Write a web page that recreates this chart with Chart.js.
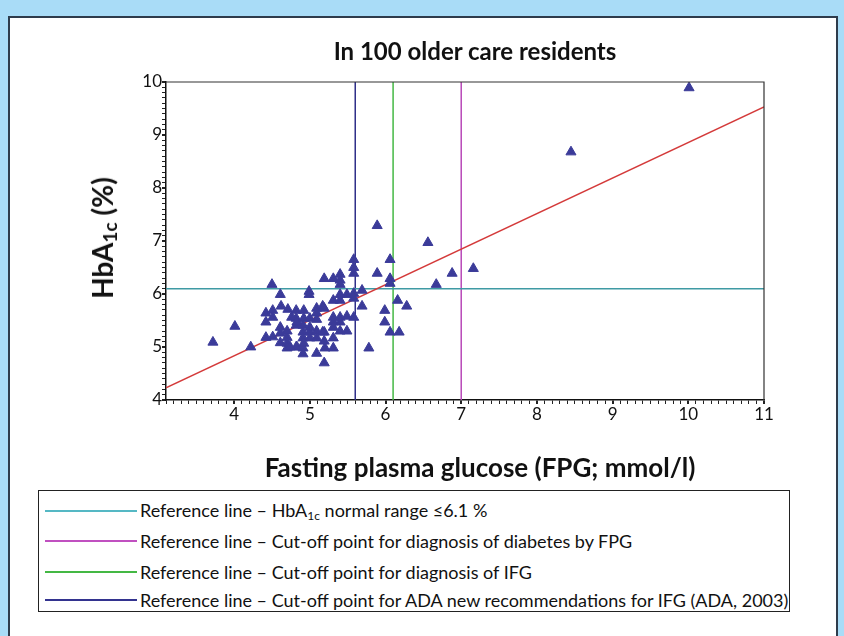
<!DOCTYPE html>
<html>
<head>
<meta charset="utf-8">
<script src="https://cdn.jsdelivr.net/npm/chart.js@4"></script>
<style>
  html, body { margin: 0; padding: 0; }
  body { width: 844px; height: 636px; background: #a9dcf7; position: relative; overflow: hidden; font-family: Lato, "DejaVu Sans", sans-serif; }
  #panel { position: absolute; left: 8px; top: 16px; width: 826px; height: 640px; background: #fff; border: 2px solid #2e3c4c; }
  #wrap { position: absolute; left: 0; top: 0; width: 844px; height: 485px; }
  .ttl { position: absolute; transform: translate(-50%, -50%); font-weight: bold; color: #111; white-space: nowrap; }
  #title { left: 475px; top: 50px; font-size: 24px; }
  #xtitle { left: 480px; top: 467px; font-size: 26px; }
  #ytitle { left: 103px; top: 238px; transform: translate(-50%, -50%) rotate(-90deg); font-size: 28px; }
  #ytitle sub { font-size: 19px; vertical-align: -4px; }
  #legend { position: absolute; left: 38px; top: 490px; width: 752px; height: 122px; border: 1.5px solid #222; box-sizing: border-box; }
  .item { position: absolute; left: 6px; height: 22px; display: flex; align-items: center; font-size: 18px; color: #111; white-space: nowrap; }
  .item .swatch { display: inline-block; width: 92px; height: 0; border-top: 2px solid; margin-right: 3px; }
  .item sub { font-size: 12px; vertical-align: -3px; }
</style>
</head>
<body>
<div id="panel"></div>
<div id="wrap"><canvas id="hbaChart" width="844" height="485"></canvas></div>
<div class="ttl" id="title">In 100 older care residents</div>
<div class="ttl" id="xtitle">Fasting plasma glucose (FPG; mmol/l)</div>
<div class="ttl" id="ytitle">HbA<sub>1c</sub> (%)</div>
<div id="legend">
  <div class="item" style="top:9px"><span class="swatch" style="border-color:#55b8c4"></span><span>Reference line – HbA<sub>1c</sub> normal range ≤6.1 %</span></div>
  <div class="item" style="top:39px"><span class="swatch" style="border-color:#c050c0"></span><span>Reference line – Cut-off point for diagnosis of diabetes by FPG</span></div>
  <div class="item" style="top:70px"><span class="swatch" style="border-color:#44b844"></span><span>Reference line – Cut-off point for diagnosis of IFG</span></div>
  <div class="item" style="top:98px"><span class="swatch" style="border-color:#33338f"></span><span>Reference line – Cut-off point for ADA new recommendations for IFG (ADA, 2003)</span></div>
</div>
<script>
// FPG (mmol/l) and HbA1c (%) per resident
const fpgValues = [
  10.01, 8.45, 5.89, 6.56, 7.16, 6.88, 6.67,
  5.58, 5.58, 5.58, 5.58, 5.58, 5.58,
  6.06, 6.06, 6.06, 6.06,
  5.89, 5.69, 6.16, 6.28, 5.99, 5.99, 6.18, 5.69, 5.78,
  3.72, 4.01, 4.22, 4.50, 4.61,
  4.42, 4.42, 4.51, 4.62, 4.71, 4.82, 4.92,
  4.61, 4.61, 4.42, 4.51, 4.70, 4.70, 4.70, 4.82, 4.91, 4.91,
  4.82, 4.82, 4.91, 4.91, 4.91, 5.00, 5.00,
  4.99, 4.99, 5.09, 5.19, 5.09, 5.09, 5.09, 5.19, 5.19, 5.19,
  5.31, 5.31, 5.31, 5.31, 5.40, 5.40, 5.31, 5.40, 5.49, 5.40, 5.49,
  5.19, 5.31, 5.40, 5.40, 5.40, 5.40,
  4.76, 4.83, 4.92, 5.00, 5.00, 5.17, 5.17, 4.83, 4.74, 5.20, 4.92, 5.09, 4.61,
  4.51, 5.49, 5.09, 4.70, 5.31
];
const hba1cValues = [
  9.89, 8.68, 7.29, 6.97, 6.48, 6.39, 6.18,
  6.65, 6.50, 6.39, 6.01, 5.92, 5.56,
  6.65, 6.29, 6.20, 5.28,
  6.39, 6.07, 5.88, 5.77, 5.69, 5.47, 5.28, 5.77, 4.98,
  5.09, 5.39, 5.00, 6.18, 5.99,
  5.64, 5.47, 5.69, 5.77, 5.71, 5.69, 5.69,
  5.37, 5.26, 5.18, 5.19, 5.18, 5.07, 4.98, 5.00, 4.98, 4.87,
  5.54, 5.41, 5.41, 5.28, 5.17, 5.28, 5.17,
  6.05, 5.99, 5.73, 5.73, 5.52, 5.30, 4.88, 4.70, 5.28, 5.11,
  4.98, 5.17, 5.56, 5.47, 5.56, 5.47, 5.88, 5.99, 5.99, 5.30, 5.30,
  6.29, 6.29, 6.37, 6.26, 6.18, 5.88,
  5.56, 5.47, 5.54, 5.54, 5.37, 5.77, 5.28, 5.00, 5.00, 4.98, 5.07, 5.17, 5.08,
  5.56, 5.58, 5.64, 5.30, 5.37
];

// reference lines
const hbaNormal = 6.1;        // HbA1c normal range
const fpgDiabetes = 7.0;      // diabetes by FPG
const fpgIFG = 6.1;           // IFG
const fpgADA = 5.6;           // ADA 2003 IFG
// regression line ends, read at the plot edges
const fitX = [3.1, 11];
const fitY = [4.23, 9.53];

const xMin = 3.1, xMax = 11, yMin = 4, yMax = 10;

const isMajor = v => Math.abs(v - Math.round(v)) < 1e-6;

const frame = {
  id: "frame",
  afterDatasetsDraw(chart) {
    const { ctx, chartArea: a } = chart;
    ctx.save();
    ctx.strokeStyle = "#333";
    ctx.lineWidth = 1.2;
    ctx.beginPath();
    ctx.moveTo(a.left, a.top);
    ctx.lineTo(a.right, a.top);
    ctx.lineTo(a.right, a.bottom);
    ctx.stroke();
    ctx.restore();
  }
};

const refLine = (label, pts, color, width) => ({
  type: "line", label, data: pts, borderColor: color, borderWidth: width,
  pointRadius: 0, fill: false, tension: 0
});

new Chart(document.getElementById("hbaChart").getContext("2d"), {
  type: "scatter",
  data: {
    datasets: [
      {
        label: "Residents",
        data: fpgValues.map((x, i) => ({ x, y: hba1cValues[i] })),
        pointStyle: "triangle",
        pointRadius: 5.8,
        backgroundColor: "#3b3b99",
        borderColor: "#3b3b99",
        borderWidth: 1
      },
      refLine("fit", [{ x: fitX[0], y: fitY[0] }, { x: fitX[1], y: fitY[1] }], "#d43a3a", 1.3),
      refLine("HbA1c 6.1", [{ x: xMin, y: hbaNormal }, { x: xMax, y: hbaNormal }], "#3f9aa4", 1.5),
      refLine("FPG 7.0", [{ x: fpgDiabetes, y: yMin }, { x: fpgDiabetes, y: yMax }], "#b848b8", 1.5),
      refLine("FPG 6.1", [{ x: fpgIFG, y: yMin }, { x: fpgIFG, y: yMax }], "#44b844", 1.5),
      refLine("FPG 5.6", [{ x: fpgADA, y: yMin }, { x: fpgADA, y: yMax }], "#2e2e88", 1.5)
    ]
  },
  options: {
    responsive: false,
    animation: false,
    layout: { padding: { left: 120, right: 80, top: 82, bottom: 0 } },
    plugins: {
      legend: { display: false },
      tooltip: { enabled: false }
    },
    scales: {
      x: {
        type: "linear", min: xMin, max: xMax,
        afterFit(scale) { scale.height = 85; },
        ticks: {
          stepSize: 0.1, autoSkip: false, maxRotation: 0, padding: 0,
          color: "#111", font: { family: "Lato", size: 17 },
          callback: v => isMajor(v) ? String(Math.round(v)) : ""
        },
        grid: {
          drawOnChartArea: false, drawTicks: true, tickLength: 4,
          color: "#222", lineWidth: c => isMajor(c.tick.value) ? 2 : 1
        },
        border: { display: true, color: "#111", width: 1.5 }
      },
      y: {
        type: "linear", min: yMin, max: yMax,
        afterFit(scale) { scale.width = 46; },
        ticks: {
          stepSize: 0.1, autoSkip: false, padding: 0,
          color: "#111", font: { family: "Lato", size: 17 },
          callback: v => isMajor(v) ? String(Math.round(v)) : ""
        },
        grid: {
          drawOnChartArea: false, drawTicks: true, tickLength: 4,
          color: "#222", lineWidth: c => isMajor(c.tick.value) ? 2 : 1
        },
        border: { display: true, color: "#111", width: 1.5 }
      }
    }
  },
  plugins: [frame]
});
</script>
</body>
</html>
